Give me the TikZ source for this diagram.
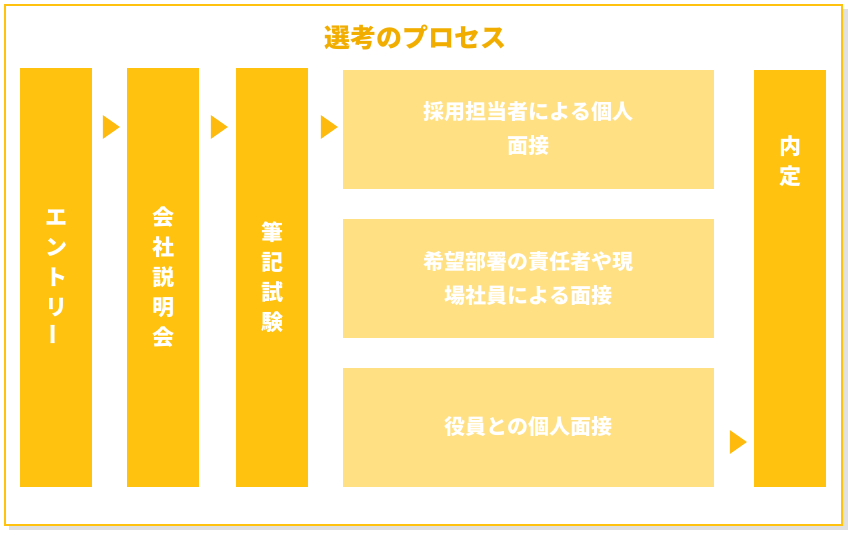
\documentclass[tikz,border=0pt]{standalone}
\usepackage{fontspec}
\newfontfamily\cjk{Noto Sans CJK JP}
\usetikzlibrary{positioning,shapes.geometric}
\definecolor{gold}{HTML}{FFC20E}
\definecolor{pale}{HTML}{FFE083}
\definecolor{titlec}{HTML}{F2AE00}
\tikzset{
  stepbar/.style={fill=gold, draw=none, minimum width=72pt, text=white, align=center,
    font=\cjk\bfseries\fontsize{22}{30}\selectfont, inner sep=0pt},
  talkbox/.style={fill=pale, draw=none, minimum width=371pt, minimum height=119pt, text=white,
    align=center, font=\cjk\bfseries\fontsize{21}{34}\selectfont, text width=340pt},
  flowtip/.style={fill=gold!90!orange, draw=none, isosceles triangle, isosceles triangle apex angle=70,
    minimum height=17pt, minimum width=16pt, inner sep=0pt}
}
\begin{document}
\begin{tikzpicture}[x=1pt,y=-1pt]
\useasboundingbox (0,0) rectangle (850,538);
% frame and title
\fill[black!12] (9,9) rectangle (848,530);
\draw[gold, line width=2.5pt, fill=white] (5,5) rectangle (842,525);
\node[text=titlec, font=\cjk\bfseries\fontsize{26}{30}\selectfont] (title) at (415,38) {選考のプロセス};
% steps
\node[stepbar, minimum height=419pt] (entry) at (56,277.5) {エ\\ン\\ト\\リ\\\rotatebox{90}{ー}};
\node[stepbar, minimum height=419pt] (briefing) at (163,277.5) {会\\社\\説\\明\\会};
\node[stepbar, minimum height=419pt] (exam) at (272,277.5) {筆\\記\\試\\験};
\node[talkbox] (hr) at (528.5,129) {採用担当者による個人\\面接};
\node[talkbox] (dept) at (528.5,278.5) {希望部署の責任者や現\\場社員による面接};
\node[talkbox] (exec) at (528.5,427) {役員との個人面接};
\node[stepbar, minimum height=417pt] (offer) at (790,278.5) {};
\node[text=white, font=\cjk\bfseries\fontsize{22}{30}\selectfont, align=center, below=62pt of offer.north, anchor=north] (offertxt) {内\\定};
% arrows
\node[flowtip] (a1) at (109,127) {};
\node[flowtip] (a2) at (217,127) {};
\node[flowtip] (a3) at (327,127) {};
\node[flowtip] (a4) at (736,442) {};
\end{tikzpicture}
\end{document}
